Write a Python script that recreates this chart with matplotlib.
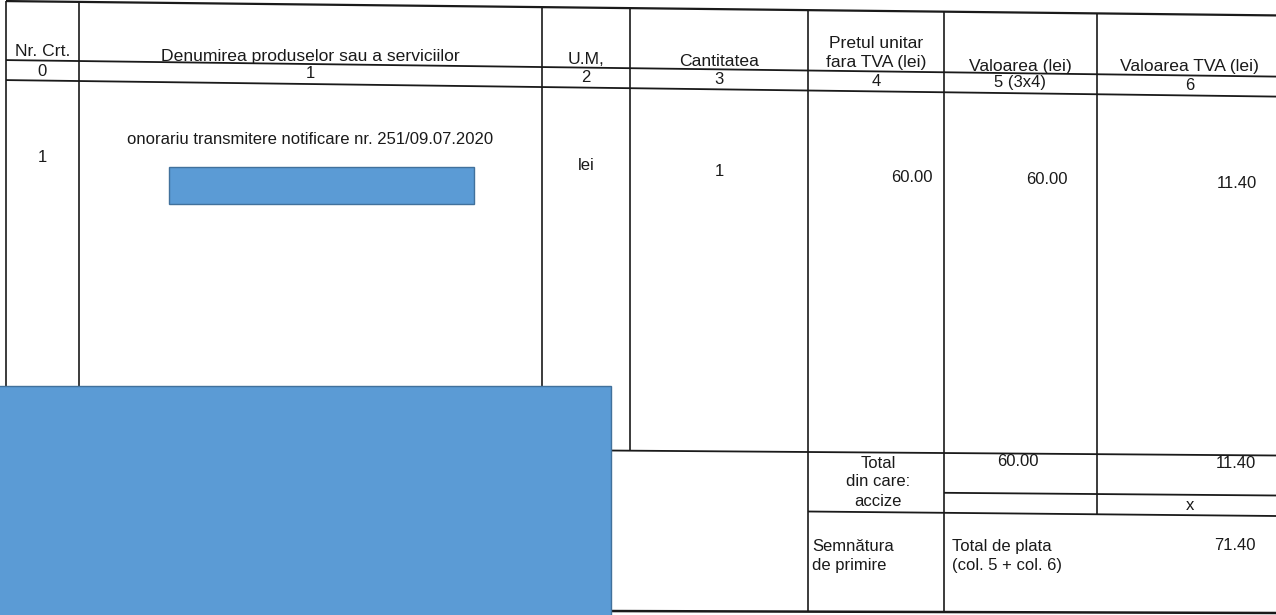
import matplotlib
matplotlib.use("Agg")
import matplotlib.pyplot as plt
from matplotlib.patches import Rectangle

plt.rcParams['font.family'] = ['Liberation Sans', 'DejaVu Sans']

# ---- data ----
headers = ["Nr. Crt.", "Denumirea produselor sau a serviciilor", "U.M,", "Cantitatea",
           "Pretul unitar\nfara TVA (lei)", "Valoarea (lei)", "Valoarea TVA (lei)"]
col_numbers = ["0", "1", "2", "3", "4", "5 (3x4)", "6"]
row_nr = "1"
row_desc = "onorariu transmitere notificare nr. 251/09.07.2020"
row_um = "lei"
row_qty = "1"
row_price = 60.00
row_value = 60.00
row_tva = 11.40
total_value = 60.00
total_tva = 11.40
accize_tva = "x"
total_plata = 71.40
total_labels = ["Total", "din care:", "accize"]
sign_label = "Semnătura\nde primire"
plata_label = "Total de plata\n(col. 5 + col. 6)"

# ---- layout ----
W, H = 1276, 615
fig = plt.figure(figsize=(W / 100, H / 100), dpi=100)
ax = fig.add_axes([0, 0, 1, 1])
ax.set_xlim(0, W)
ax.set_ylim(H, 0)
ax.axis('off')
fig.patch.set_facecolor('white')

xe = [6, 79, 542, 630, 808, 944, 1097, 1300]
LC = '#1a1a1a'
TC = '#1a1a1a'
FS = 12
HFS = 12.6


def hline(x0, x1, y0, y1, lw=1.3):
    ax.plot([x0, x1], [y0, y1], color=LC, lw=lw, solid_capstyle='butt')


def vline(x, y0, y1, lw=1.2):
    ax.plot([x, x], [y0, y1], color=LC, lw=lw, solid_capstyle='butt')


def sk(y0, x, s=0.0122):
    return y0 + s * x


# horizontal lines (slightly skewed scan)
hline(xe[0], W, sk(1.0, xe[0], 0.0113), sk(1.0, W, 0.0113), lw=1.6)
hline(xe[0], W, sk(60.0, xe[0], 0.013), sk(60.0, W, 0.013))
hline(xe[0], W, sk(80.0, xe[0], 0.013), sk(80.0, W, 0.013))
hline(xe[0], W, 446.0, 455.5)
hline(xe[5], W, 492.8, 495.5)
hline(xe[4], W, 511.5, 516.0)
hline(600, W, 611.0, 613.0, lw=1.8)

# vertical lines
vline(xe[0], sk(1.0, xe[0], 0.0113), 450)
vline(xe[1], sk(1.0, xe[1], 0.0113), 450)
vline(xe[2], sk(1.0, xe[2], 0.0113), 450)
vline(xe[3], sk(1.0, xe[3], 0.0113), 450)
vline(xe[4], sk(1.0, xe[4], 0.0113), 611.5)
vline(xe[5], sk(1.0, xe[5], 0.0113), 611.5)
vline(xe[6], sk(1.0, xe[6], 0.0113), 514.5)

centers = [(xe[i] + xe[i + 1]) / 2 for i in range(7)]
centers[6] = 1190

# header texts
head_y = [52, 56, 60, 62, 53, 66, 67]
for cx, t, yy in zip(centers, headers, head_y):
    ax.text(cx, yy, t, ha='center', va='center', fontsize=HFS, color=TC,
            linespacing=1.25)

num_y = [71, 74, 78, 80, 82, 83, 85]
for cx, t, yy in zip(centers, col_numbers, num_y):
    ax.text(cx, yy, t, ha='center', va='center', fontsize=FS, color=TC)

# body row
ax.text(centers[0], 158, row_nr, ha='center', va='center', fontsize=FS, color=TC)
ax.text(centers[1], 139, row_desc, ha='center', va='center', fontsize=FS, color=TC)
ax.text(centers[2], 166, row_um, ha='center', va='center', fontsize=FS, color=TC)
ax.text(centers[3], 171, row_qty, ha='center', va='center', fontsize=FS, color=TC)
ax.text(933, 177, f"{row_price:.2f}", ha='right', va='center', fontsize=FS, color=TC)
ax.text(1068, 180, f"{row_value:.2f}", ha='right', va='center', fontsize=FS, color=TC)
ax.text(1257, 183, f"{row_tva:.2f}", ha='right', va='center', fontsize=FS, color=TC)

# totals
for t, yy in zip(total_labels, [463, 482, 502]):
    ax.text(878, yy, t, ha='center', va='center', fontsize=FS, color=TC)
ax.text(1018, 462, f"{total_value:.2f}", ha='center', va='center', fontsize=FS, color=TC)
ax.text(1256, 464, f"{total_tva:.2f}", ha='right', va='center', fontsize=FS, color=TC)
ax.text(1190, 506, accize_tva, ha='center', va='center', fontsize=FS, color=TC)
ax.text(812, 556, sign_label, ha='left', va='center', fontsize=FS, color=TC, linespacing=1.35)
ax.text(952, 556, plata_label, ha='left', va='center', fontsize=FS, color=TC, linespacing=1.35)
ax.text(1256, 546, f"{total_plata:.2f}", ha='right', va='center', fontsize=FS, color=TC)

# redaction boxes
ax.add_patch(Rectangle((169, 167), 305, 37, facecolor='#5B9BD5', edgecolor='#41719C', lw=1, zorder=5))
ax.add_patch(Rectangle((-2, 386), 613, 240, facecolor='#5B9BD5', edgecolor='#41719C', lw=1, zorder=5))

fig.savefig('out.png', dpi=100, facecolor='white')
